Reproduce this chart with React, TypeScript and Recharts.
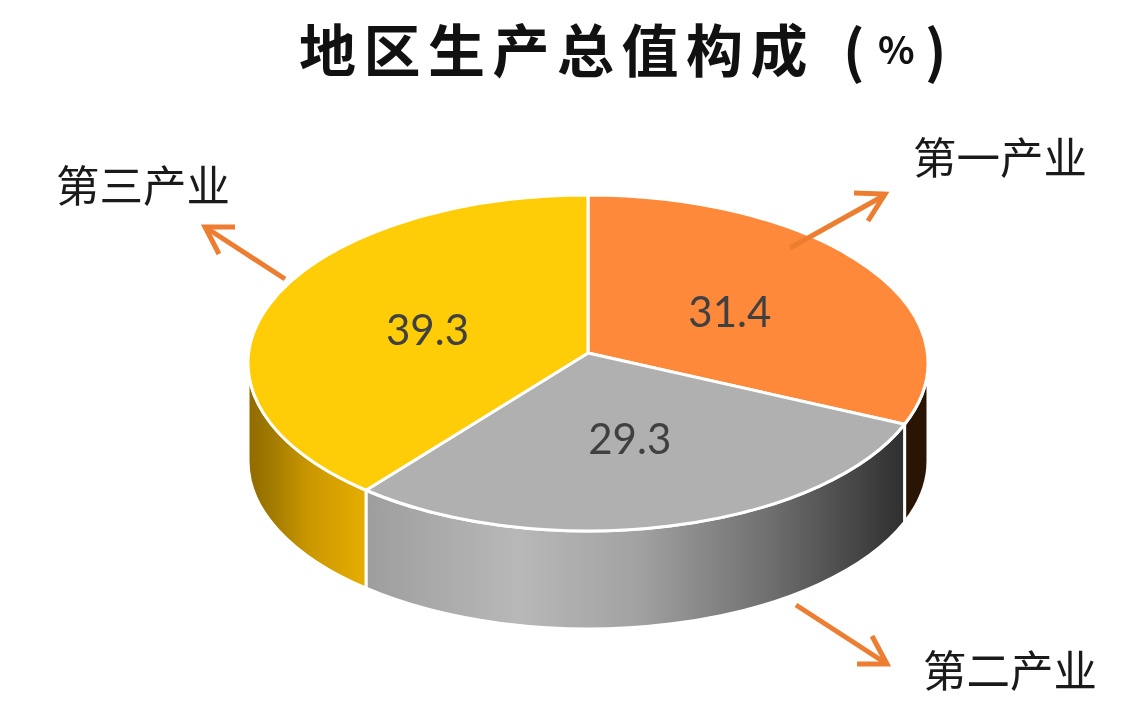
import React from "react";
import { PieChart, Pie, Cell } from "recharts";

const categories = ["第一产业", "第二产业", "第三产业"];
const shares = [31.4, 29.3, 39.3];
const topColors = ["#FF893B", "#B0B0B0", "#FFCC08"];
const chartTitle = "地区生产总值构成";

const chartData = categories.map((name, i) => ({ name, value: shares[i] }));

const ORANGE = "#ED7D31";
const CX = 588;
const CY = 363;
const RX = 340;
const RY = 168;
const DEPTH = 98;
const APEX_SHIFT = -10;
const CJK = "'Noto Sans CJK SC', sans-serif";

const wallGradients = [
  [
    [0, "#2a1505"],
    [1, "#2a1505"],
  ],
  [
    [0, "#9e9e9e"],
    [0.28, "#b8b8b8"],
    [0.5, "#a2a2a2"],
    [0.75, "#6e6e6e"],
    [1, "#2e2e2e"],
  ],
  [
    [0, "#8f6b00"],
    [0.2, "#a27a00"],
    [0.5, "#c99700"],
    [1, "#e8ae00"],
  ],
] as [number, string][][];

const rad = (deg: number) => (deg * Math.PI) / 180;
// small perspective warp: the original's front edges lean towards the viewer
const warp = (deg: number) => deg + 2.3 * Math.sin(rad(2 * (deg + 90)));
const rimX = (cx: number, r: number, deg: number) => cx + r * Math.cos(rad(deg));
const rimY = (cy: number, r: number, deg: number) =>
  cy - r * (RY / RX) * Math.sin(rad(deg));

// flattened sector with its side wall, so the pie looks tilted
function TiltedSlice(props: any) {
  const { cx, cy, outerRadius: r, fill, index } = props;
  const startAngle = warp(props.startAngle);
  const endAngle = warp(props.endAngle);
  const ry = r * (RY / RX);
  const large = Math.abs(startAngle - endAngle) > 180 ? 1 : 0;
  const top =
    `M${cx},${cy + APEX_SHIFT} L${rimX(cx, r, startAngle)},${rimY(cy, r, startAngle)} ` +
    `A${r},${ry} 0 ${large} 1 ${rimX(cx, r, endAngle)},${rimY(cy, r, endAngle)} Z`;

  const from = Math.min(startAngle, 0);
  const to = Math.max(endAngle, -180);
  let wall = null;
  if (from > to) {
    const x0 = rimX(cx, r, from);
    const y0 = rimY(cy, r, from);
    const x1 = rimX(cx, r, to);
    const y1 = rimY(cy, r, to);
    const d =
      `M${x0},${y0} A${r},${ry} 0 0 1 ${x1},${y1} L${x1},${y1 + DEPTH} ` +
      `A${r},${ry} 0 0 0 ${x0},${y0 + DEPTH} Z`;
    wall = <path d={d} fill={`url(#wall${index})`} stroke="#fff" strokeWidth={3} />;
  }

  return (
    <g>
      {wall}
      <path d={top} fill={fill} stroke="#fff" strokeWidth={3} strokeLinejoin="round" />
    </g>
  );
}

function ValueLabel(props: any) {
  const { cx, cy, midAngle, value } = props;
  return (
    <text
      x={cx + RX * 0.5 * Math.cos(rad(midAngle))}
      y={cy - 6 - RY * 0.5 * Math.sin(rad(midAngle))}
      textAnchor="middle"
      dominantBaseline="central"
      fontFamily="Lato, 'Open Sans', sans-serif"
      fontSize={42}
      fill="#404040">
      {value}
    </text>
  );
}

function Arrow({ x1, y1, x2, y2, head }: { x1: number; y1: number; x2: number; y2: number; head: string }) {
  return (
    <g fill="none" stroke={ORANGE} strokeWidth={5}>
      <line x1={x1} y1={y1} x2={x2} y2={y2} />
      <polyline points={head} />
    </g>
  );
}

export default function App() {
  return (
    <div style={{ position: "absolute", left: 0, top: 0, width: 1146, height: 726, background: "#fff", filter: "blur(0.5px)" }}>
      <PieChart width={1146} height={726} margin={{ top: 0, right: 0, bottom: 0, left: 0 }}>
        <defs>
          {wallGradients.map((stops, i) => (
            <linearGradient
              key={i}
              id={`wall${i}`}
              gradientUnits="userSpaceOnUse"
              x1={[906, 368, 248][i]}
              x2={[928, 906, 368][i]}
              y1={0}
              y2={0}>
              {stops.map(([offset, color]) => (
                <stop key={offset} offset={offset} stopColor={color} />
              ))}
            </linearGradient>
          ))}
        </defs>
        <Pie
          data={chartData}
          dataKey="value"
          nameKey="name"
          cx={CX}
          cy={CY}
          innerRadius={0}
          outerRadius={RX}
          startAngle={90}
          endAngle={-270}
          shape={TiltedSlice}
          label={ValueLabel}
          labelLine={false}
          isAnimationActive={false}>
          {chartData.map((d, i) => (
            <Cell key={d.name} fill={topColors[i]} />
          ))}
        </Pie>
      </PieChart>

      {/* title, category names and arrows sit above the pie */}
      <svg width={1146} height={726} style={{ position: "absolute", left: 0, top: 0 }}>
        <Arrow x1={790} y1={248} x2={885} y2={195} head="854,193 885,194 868,221" />
        <Arrow x1={285} y1={279} x2={205} y2={227} head="235,227 205,227 219,254" />
        <Arrow x1={796} y1={605} x2={887} y2={664} head="872,636 887,664 857,664" />

        <text x={299} y={47} dominantBaseline="central" fontFamily={CJK} fontWeight={700} fontSize={57} letterSpacing={7.5} fill="#111">
          {chartTitle}
        </text>
        <text x={843} y={47} dominantBaseline="central" fontFamily={CJK} fontWeight={700} fontSize={57} fill="#111">
          (
        </text>
        <text x={878} y={47} dominantBaseline="central" fontFamily={CJK} fontWeight={700} fontSize={38} fill="#111">
          %
        </text>
        <text x={925} y={47} dominantBaseline="central" fontFamily={CJK} fontWeight={700} fontSize={57} fill="#111">
          )
        </text>
        <text x={913} y={155} dominantBaseline="central" fontFamily={CJK} fontSize={43.5} fill="#1a1a1a">
          {categories[0]}
        </text>
        <text x={923} y={668} dominantBaseline="central" fontFamily={CJK} fontSize={43.5} fill="#1a1a1a">
          {categories[1]}
        </text>
        <text x={56} y={183} dominantBaseline="central" fontFamily={CJK} fontSize={43.5} fill="#1a1a1a">
          {categories[2]}
        </text>
      </svg>
    </div>
  );
}
